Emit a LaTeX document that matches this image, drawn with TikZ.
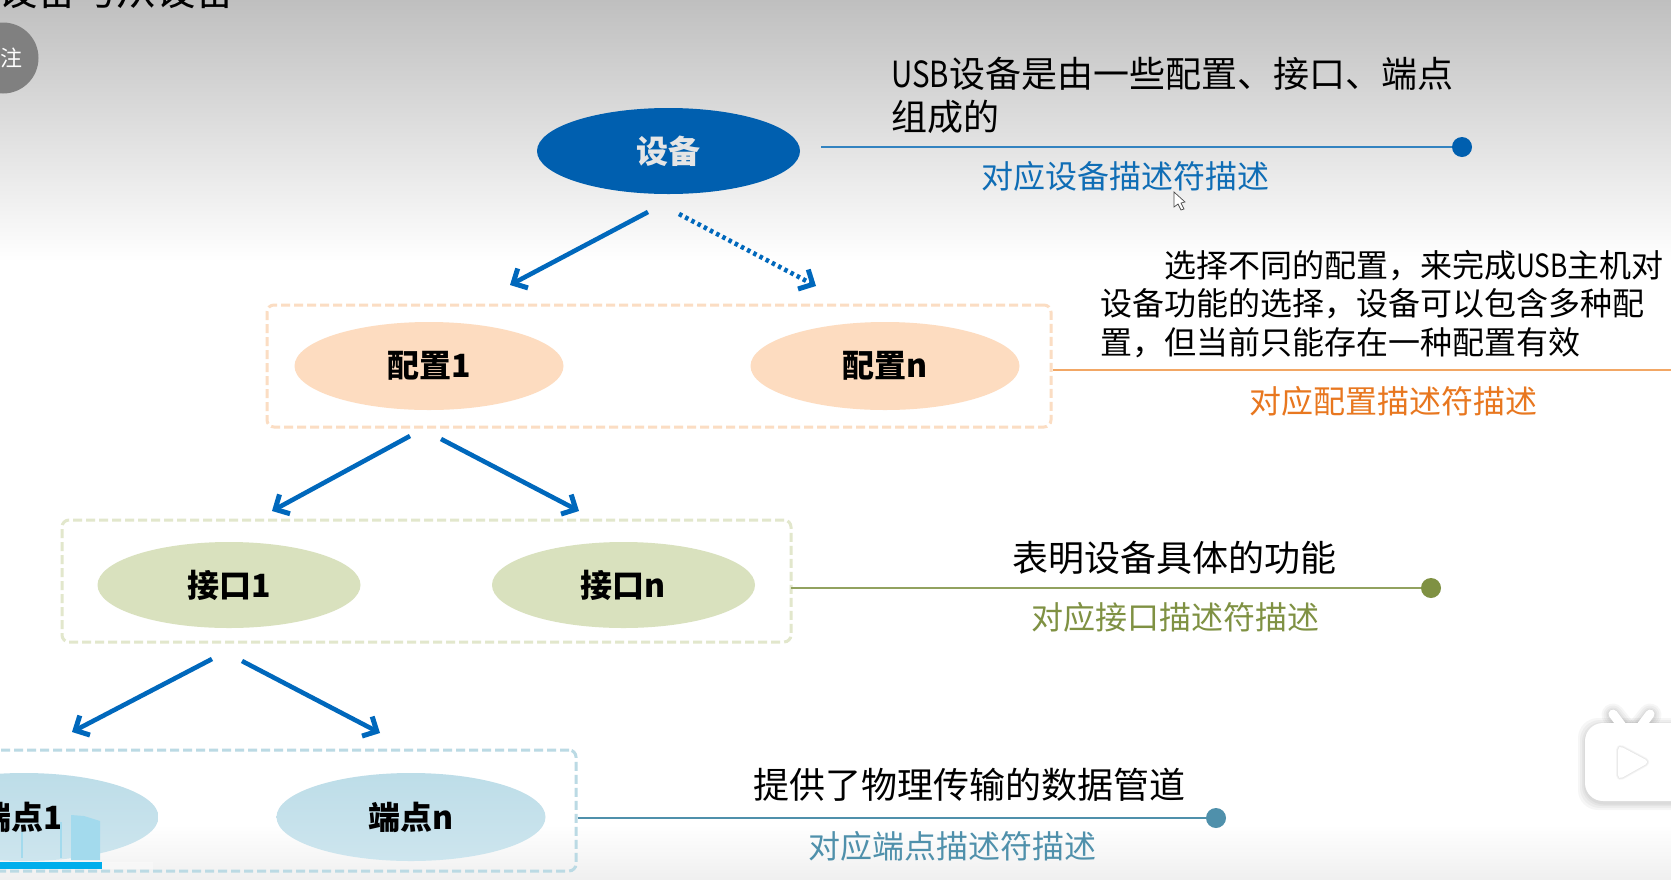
\documentclass[tikz,border=0pt]{standalone}
\usepackage{fontspec}
\setmainfont{Noto Sans CJK SC}
\usetikzlibrary{arrows.meta,shapes.geometric,calc}
\definecolor{devblue}{HTML}{005FAF}
\definecolor{linkblue}{HTML}{0F6DB5}
\definecolor{arrowblue}{HTML}{0068BC}
\definecolor{cfgfill}{HTML}{FDDCC0}
\definecolor{cfgline}{HTML}{F2A765}
\definecolor{cfgtext}{HTML}{E8771F}
\definecolor{cfgdash}{HTML}{FBDDC3}
\definecolor{ifcfill}{HTML}{D9E1BE}
\definecolor{ifcdash}{HTML}{E2E7CC}
\definecolor{ifctext}{HTML}{7F9143}
\definecolor{epfill}{HTML}{BDDDE8}
\definecolor{eplow}{HTML}{CDE5EE}
\definecolor{epdash}{HTML}{BBDAE4}
\definecolor{eptext}{HTML}{4F90AB}
\definecolor{barblue}{HTML}{00AEEC}
\definecolor{thumb}{HTML}{A3DAED}
\newcommand{\usbw}{\scalebox{0.82}[1]{USB}}
\tikzset{
  x=1pt,y=-1pt,
  oval/.style={ellipse,minimum width=#1,minimum height=87pt,inner sep=0pt,
    font=\fontsize{32}{36}\selectfont\bfseries},
  dashbox/.style={rectangle,draw=#1,line width=3pt,dash pattern=on 9pt off 4pt,
    rounded corners=7pt,inner sep=0pt},
  flow/.style={draw=arrowblue,line width=4.6pt,
    -{Straight Barb[length=11pt,width=22pt,line width=5pt]}},
  leader/.style={line width=1.5pt},
  enddot/.style={circle,fill=#1,minimum size=20pt,inner sep=0pt},
  note/.style={anchor=west,inner sep=0pt,text=black,font=\fontsize{36}{43}\selectfont},
  sub/.style={anchor=center,inner sep=0pt,text=#1,font=\fontsize{32}{38}\selectfont},
  softedge/.style={black,opacity=0.035},
}
\begin{document}
\begin{tikzpicture}
\useasboundingbox (0,0) rectangle (1671,879);
\clip (0,0) rectangle (1671,879);
% backgrounds
\fill[white] (0,0) rectangle (1671,879);
\shade[top color=black!25,bottom color=white] (0,0) rectangle (1671,262);
\shade[top color=white,bottom color=black!6] (0,825) rectangle (1671,879);

% clipped heading and side badge
\node[anchor=base west,inner sep=0pt,font=\fontsize{39.5}{44}\selectfont] (title) at (-2,5) {设备与从设备};
\node[circle,fill=black!50,minimum size=71pt,inner sep=0pt] (badge) at (3,58) {};
\node[text=white,inner sep=0pt,font=\fontsize{22}{24}\selectfont] (badgetext) at (11,58) {注};

% device level
\node[oval=263pt,minimum height=86pt,fill=devblue,text=white!90!black] (dev) at (668.5,151) {设备};
\node[enddot=devblue] (devdot) at (1462,147) {};
\coordinate (devstart) at (821,147);
\draw[leader,draw=linkblue!85!white] (devstart) -- (devdot);
\node[note,align=left] (devnote) at (891,95) {\usbw 设备是由一些配置、接口、端点\\组成的};
\node[sub=linkblue] (devsub) at (1125,176) {对应设备描述符描述};
\draw[fill=white,draw=black!70,line width=0.7pt] (1174,192) -- (1174,207) -- (1178,204) -- (1181,210) -- (1184,209) -- (1181,203) -- (1185,202) -- cycle;

% configuration level
\node[dashbox=cfgdash,minimum width=784pt,minimum height=122pt] (cfgbox) at (659,366) {};
\node[oval=269pt,minimum height=88pt,fill=cfgfill] (cfg1) at (429,366) {配置1};
\node[oval=269pt,minimum height=88pt,fill=cfgfill] (cfgn) at (885,366) {配置n};
\coordinate (cfgend) at (1671,370);
\draw[leader,draw=cfgline] (cfgbox.east |- cfgend) -- (cfgend);
\node[anchor=north west,inner sep=0pt,align=left,font=\fontsize{32}{38.5}\selectfont] (cfgnote) at (1100,250)
  {\hspace*{64pt}选择不同的配置，来完成\usbw 主机对\\设备功能的选择，设备可以包含多种配\\置，但当前只能存在一种配置有效};
\node[sub=cfgtext] (cfgsub) at (1393,401) {对应配置描述符描述};

% interface level
\node[dashbox=ifcdash,minimum width=729pt,minimum height=122pt] (ifcbox) at (426.5,581) {};
\node[oval=263pt,minimum height=86pt,fill=ifcfill] (ifc1) at (229,585) {接口1};
\node[oval=263pt,minimum height=86pt,fill=ifcfill] (ifcn) at (623.5,585) {接口n};
\node[enddot=ifctext] (ifcdot) at (1431,588) {};
\coordinate (ifcstart) at (791,588);
\draw[leader,draw=ifctext!85!white] (ifcstart) -- (ifcdot);
\node[note,anchor=center] (ifcnote) at (1174,558) {表明设备具体的功能};
\node[sub=ifctext] (ifcsub) at (1175,617) {对应接口描述符描述};

% endpoint level
\node[dashbox=epdash,minimum width=606pt,minimum height=121pt] (epbox) at (273,810.5) {};
\node[oval=269pt,minimum height=88pt,top color=epfill,bottom color=eplow] (ep1) at (24,817) {};
\node[oval=269pt,minimum height=88pt,top color=epfill,bottom color=eplow] (epn) at (411,817) {};
\node[inner sep=0pt,font=\fontsize{32}{36}\selectfont\bfseries] (ep1text) at (21,817) {端点1};
\node[inner sep=0pt,font=\fontsize{32}{36}\selectfont\bfseries] (epntext) at (411,817) {端点n};
\node[enddot=eptext] (epdot) at (1216,818) {};
\draw[leader,draw=eptext] (epbox.east |- epdot) -- (epdot);
\node[note,anchor=center] (epnote) at (969,785) {提供了物理传输的数据管道};
\node[sub=eptext] (epsub) at (952,846) {对应端点描述符描述};

% player thumbnail overlay on the first endpoint
\fill[white,opacity=0.35] (0,862) rectangle (153,869);
\fill[thumb] (71,815) -- (84,816) -- (100,821) -- (100,860) -- (71,860) -- cycle;
\draw[thumb,line width=1.2pt] (22,832) -- (22,858);
\draw[thumb,line width=1.5pt] (61,822) -- (61,858);
\fill[barblue] (0,862) rectangle (102,869);

% flow arrows
\coordinate (a1s) at (648,212); \coordinate (a1e) at (510,285);
\coordinate (a2s) at (679,214); \coordinate (a2e) at (816,286);
\coordinate (a3s) at (410,436); \coordinate (a3e) at (272,511);
\coordinate (a4s) at (441,439); \coordinate (a4e) at (579,511);
\coordinate (a5s) at (212,659); \coordinate (a5e) at (72,732);
\coordinate (a6s) at (242,661); \coordinate (a6e) at (380,733);
\draw[flow] (a1s) -- (a1e);
\draw[flow,dash pattern=on 3.5pt off 3.5pt] (a2s) -- (a2e);
\draw[flow] (a3s) -- (a3e);
\draw[flow] (a4s) -- (a4e);
\draw[flow] (a5s) -- (a5e);
\draw[flow] (a6s) -- (a6e);

% player logo at the right edge
\foreach \g in {7,5,3,1.5}{
  \fill[softedge,rounded corners=20pt] (1585-\g,723-\g+2) rectangle (1700,801+\g+2);
  \draw[softedge,line width=9pt+2*\g pt,line cap=round] (1613,714+1) -- (1625,730);
  \draw[softedge,line width=9pt+2*\g pt,line cap=round] (1650,714+1) -- (1638,730);
}
\fill[white,rounded corners=18pt] (1585,723) rectangle (1700,801);
\draw[white,line width=9pt,line cap=round] (1613,714) -- (1625,730);
\draw[white,line width=9pt,line cap=round] (1650,714) -- (1638,730);
\foreach \g in {4,2.5,1}{
  \draw[softedge,line width=\g pt,rounded corners=5pt,line join=round] (1618,745) -- (1650,762) -- (1618,780) -- cycle;
}
\fill[white,rounded corners=5pt] (1618,745) -- (1650,762) -- (1618,780) -- cycle;
\end{tikzpicture}
\end{document}
